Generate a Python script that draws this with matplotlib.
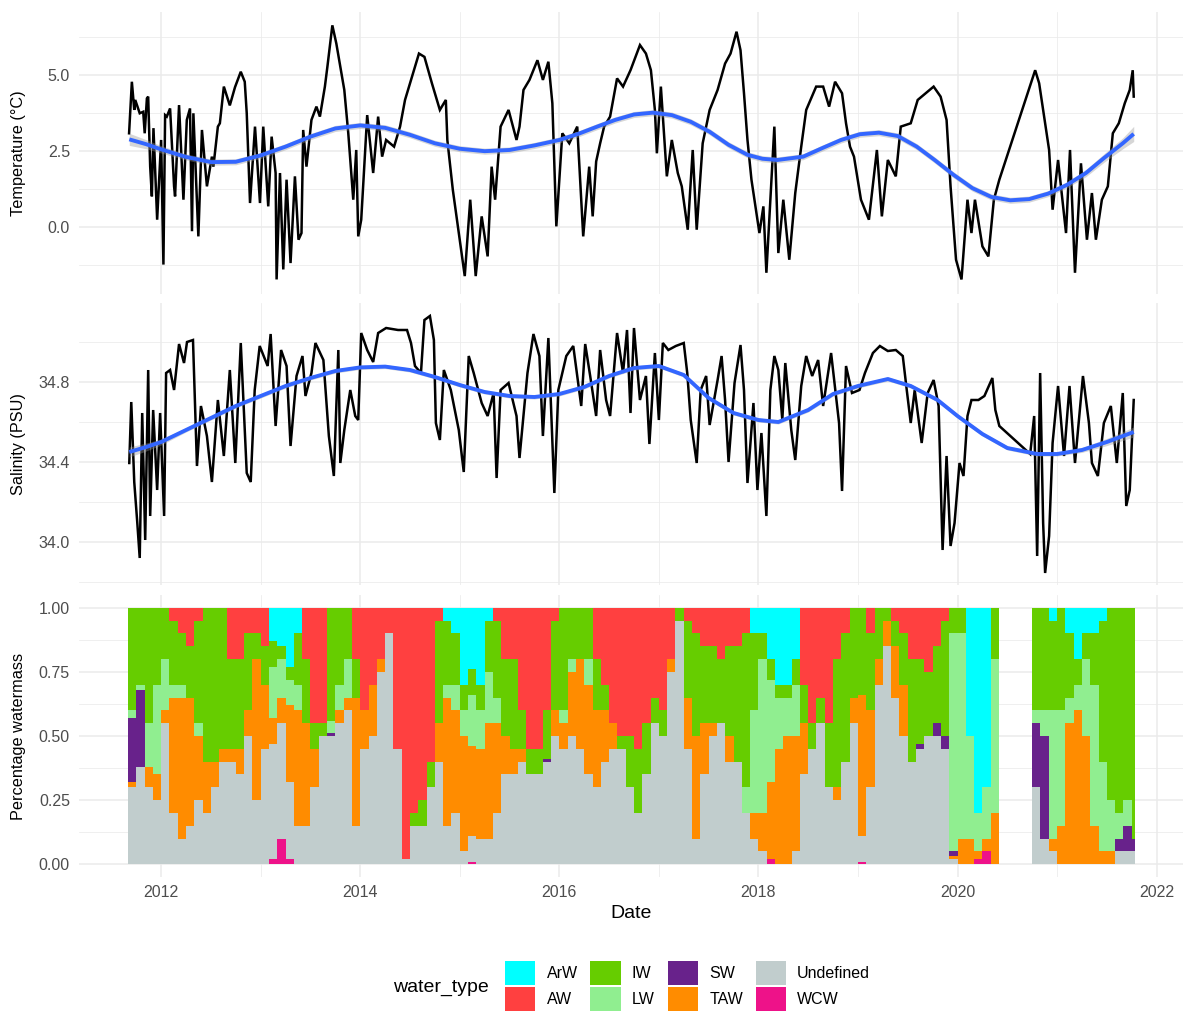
import numpy as np
import pandas as pd
import matplotlib
matplotlib.use('Agg')
import matplotlib.pyplot as plt
from matplotlib.patches import Patch
from matplotlib.ticker import MultipleLocator, FormatStrFormatter

plt.rcParams['font.family'] = ['Liberation Sans', 'DejaVu Sans']

# temperature record (decimal year, degC)
temp_points = [
    (2011.678, 3.08), (2011.706, 4.78), (2011.73, 3.85), (2011.74, 4.18), (2011.785, 3.74), (2011.82, 3.79),
    (2011.835, 3.08), (2011.857, 4.23), (2011.87, 4.29), (2011.89, 1.98), (2011.907, 1.00), (2011.923, 3.25),
    (2011.96, 0.23), (2012.0, 2.86), (2012.023, -1.25), (2012.04, 3.68), (2012.057, 3.63), (2012.09, 3.90),
    (2012.13, 1.33), (2012.14, 1.00), (2012.18, 4.01), (2012.224, 0.89), (2012.258, 3.52), (2012.29, 3.90),
    (2012.31, -0.15), (2012.324, 3.74), (2012.374, -0.32), (2012.41, 3.19), (2012.46, 1.33), (2012.51, 2.31),
    (2012.525, 1.98), (2012.57, 3.30), (2012.59, 3.41), (2012.63, 4.62), (2012.69, 4.00), (2012.742, 4.60),
    (2012.80, 5.11), (2012.84, 4.78), (2012.86, 3.74), (2012.893, 0.78), (2012.943, 3.30), (2012.993, 0.78),
    (2013.026, 3.30), (2013.076, 0.67), (2013.11, 2.97), (2013.15, 1.77), (2013.16, -1.74), (2013.194, 1.77),
    (2013.227, -1.41), (2013.26, 1.55), (2013.30, -1.20), (2013.344, 1.66), (2013.38, -0.43), (2013.41, -0.21),
    (2013.427, 3.19), (2013.46, 1.98), (2013.51, 3.52), (2013.56, 3.96), (2013.595, 3.63), (2013.645, 4.62),
    (2013.67, 5.27), (2013.72, 6.64), (2013.76, 6.04),
    (2013.80, 5.27), (2013.84, 4.51), (2013.88, 3.08), (2013.93, 0.89), (2013.96, 2.53), (2013.98, -0.32),
    (2014.01, 0.23), (2014.07, 3.68), (2014.13, 1.77), (2014.18, 3.63), (2014.22, 2.31), (2014.26, 2.86),
    (2014.34, 2.64), (2014.40, 3.30), (2014.45, 4.18), (2014.53, 5.05), (2014.59, 5.71), (2014.645, 5.60),
    (2014.72, 4.73), (2014.80, 3.85), (2014.86, 4.18), (2014.875, 2.86), (2014.93, 1.22), (2014.99, -0.21),
    (2015.05, -1.63), (2015.105, 0.89), (2015.16, -1.63), (2015.22, 0.34), (2015.28, -0.98), (2015.32, 1.98),
    (2015.355, 0.89), (2015.41, 3.30), (2015.49, 3.85), (2015.57, 2.86), (2015.60, 3.30), (2015.64, 4.51),
    (2015.70, 4.84), (2015.78, 5.49), (2015.835, 4.84), (2015.89, 5.44), (2015.93, 4.07), (2015.97, 0.01),
    (2016.03, 3.08), (2016.10, 2.75), (2016.18, 3.30), (2016.24, -0.32), (2016.30, 1.98), (2016.335, 0.34),
    (2016.37, 2.15), (2016.41, 2.75), (2016.45, 3.30), (2016.51, 3.63), (2016.58, 4.89), (2016.64, 4.62),
    (2016.715, 5.16), (2016.81, 5.99), (2016.87, 5.71), (2016.92, 5.16), (2016.96, 3.85), (2016.98, 2.42),
    (2017.02, 4.62), (2017.08, 1.66), (2017.13, 2.86), (2017.19, 1.77), (2017.23, 1.33), (2017.29, -0.10),
    (2017.34, 2.53), (2017.38, -0.10), (2017.44, 2.75), (2017.51, 3.85), (2017.59, 4.51), (2017.665, 5.38),
    (2017.72, 5.71), (2017.78, 6.43), (2017.82, 5.82), (2017.855, 4.40), (2017.89, 2.86), (2017.93, 1.55),
    (2018.01, -0.21), (2018.05, 0.67), (2018.08, -1.52), (2018.12, 0.89), (2018.16, 3.30), (2018.20, -0.87),
    (2018.25, 0.89), (2018.31, -1.09), (2018.37, 1.11), (2018.43, 2.64), (2018.48, 3.85), (2018.58, 4.62),
    (2018.65, 4.62), (2018.71, 3.96), (2018.77, 4.78), (2018.84, 4.40), (2018.88, 3.41), (2018.92, 2.64),
    (2018.96, 2.31), (2019.03, 0.89), (2019.11, 0.23), (2019.19, 2.53), (2019.24, 0.34), (2019.30, 2.20),
    (2019.38, 1.66), (2019.43, 3.30), (2019.53, 3.41), (2019.60, 4.18), (2019.68, 4.40), (2019.76, 4.62),
    (2019.83, 4.29), (2019.89, 3.52), (2019.93, 1.33), (2019.985, -1.09), (2020.04, -1.74), (2020.10, 0.89),
    (2020.14, -0.21), (2020.175, 0.89), (2020.25, -0.65), (2020.31, -0.98), (2020.365, 0.89), (2020.42, 1.55),
    (2020.78, 5.16), (2020.82, 4.73), (2020.86, 3.85), (2020.92, 2.53), (2020.955, 0.56), (2021.01, 2.20),
    (2021.09, -0.21), (2021.13, 2.53), (2021.18, -1.52), (2021.24, 2.09), (2021.30, -0.43), (2021.35, 1.11),
    (2021.39, -0.43), (2021.45, 0.89), (2021.51, 1.33), (2021.56, 3.08), (2021.62, 3.41), (2021.68, 4.07),
    (2021.73, 4.51), (2021.76, 5.16), (2021.77, 4.29),
]

# salinity record (decimal year, PSU)
sal_points = [
    (2011.68, 34.395), (2011.70, 34.70), (2011.73, 34.30), (2011.76, 34.10), (2011.785, 33.92), (2011.81, 34.645),
    (2011.84, 34.01), (2011.87, 34.86), (2011.89, 34.13), (2011.92, 34.66), (2011.96, 34.26), (2011.99, 34.645),
    (2012.03, 34.13), (2012.05, 34.845), (2012.09, 34.86), (2012.13, 34.76), (2012.18, 34.99), (2012.23, 34.895),
    (2012.26, 35.00), (2012.32, 35.01), (2012.36, 34.38), (2012.40, 34.68), (2012.46, 34.53), (2012.51, 34.30),
    (2012.57, 34.71), (2012.63, 34.43), (2012.69, 34.86), (2012.745, 34.395), (2012.80, 34.995), (2012.86, 34.345),
    (2012.90, 34.30), (2012.94, 34.76), (2012.99, 34.98), (2013.07, 34.88), (2013.10, 35.04), (2013.15, 34.58),
    (2013.205, 34.96), (2013.26, 34.88), (2013.30, 34.48), (2013.36, 34.83), (2013.42, 34.93), (2013.45, 34.73),
    (2013.51, 34.845), (2013.55, 34.995), (2013.63, 34.91), (2013.685, 34.53), (2013.735, 34.33), (2013.78, 34.96),
    (2013.80, 34.395), (2013.84, 34.56), (2013.90, 34.76), (2013.95, 34.63), (2013.98, 34.61), (2014.01, 35.045),
    (2014.07, 34.96), (2014.13, 34.90), (2014.18, 35.045), (2014.26, 35.07), (2014.38, 35.06), (2014.47, 35.06),
    (2014.51, 34.995), (2014.55, 34.88), (2014.61, 34.845), (2014.645, 35.11), (2014.70, 35.13), (2014.74, 35.01),
    (2014.76, 34.595), (2014.80, 34.51), (2014.84, 34.86), (2014.91, 34.76), (2014.99, 34.56), (2015.04, 34.35),
    (2015.09, 34.93), (2015.14, 34.845), (2015.22, 34.695), (2015.28, 34.63), (2015.34, 34.745), (2015.37, 34.32),
    (2015.41, 34.76), (2015.49, 34.795), (2015.57, 34.63), (2015.60, 34.42), (2015.68, 34.845), (2015.74, 35.04),
    (2015.80, 34.93), (2015.835, 34.53), (2015.89, 35.02), (2015.95, 34.245), (2015.99, 34.76), (2016.07, 34.93),
    (2016.14, 34.98), (2016.22, 34.68), (2016.26, 34.99), (2016.31, 34.83), (2016.37, 34.63), (2016.41, 34.96),
    (2016.47, 34.71), (2016.51, 34.63), (2016.58, 35.045), (2016.64, 34.845), (2016.68, 35.06), (2016.715, 34.645),
    (2016.75, 35.07), (2016.81, 34.71), (2016.87, 34.83), (2016.905, 34.49), (2016.96, 34.945), (2017.0, 34.61),
    (2017.04, 34.995), (2017.095, 34.96), (2017.17, 34.98), (2017.25, 34.995), (2017.285, 34.845), (2017.32, 34.61),
    (2017.38, 34.395), (2017.42, 34.76), (2017.475, 34.83), (2017.51, 34.585), (2017.59, 34.81), (2017.63, 34.93),
    (2017.665, 34.71), (2017.70, 34.40), (2017.76, 34.795), (2017.82, 34.985), (2017.855, 34.76), (2017.89, 34.295),
    (2017.95, 34.695), (2017.99, 34.26), (2018.03, 34.545), (2018.08, 34.13), (2018.12, 34.76), (2018.16, 34.93),
    (2018.20, 34.86), (2018.24, 34.61), (2018.27, 34.895), (2018.33, 34.56), (2018.37, 34.41), (2018.43, 34.78),
    (2018.48, 34.93), (2018.54, 34.83), (2018.60, 34.91), (2018.65, 34.68), (2018.73, 34.945), (2018.81, 34.595),
    (2018.84, 34.255), (2018.88, 34.88), (2018.94, 34.745), (2019.015, 34.76), (2019.07, 34.845), (2019.15, 34.945),
    (2019.22, 34.98), (2019.30, 34.955), (2019.38, 34.96), (2019.45, 34.93), (2019.49, 34.76), (2019.53, 34.595),
    (2019.57, 34.76), (2019.64, 34.495), (2019.70, 34.745), (2019.76, 34.81), (2019.81, 34.68), (2019.85, 33.96),
    (2019.89, 34.43), (2019.93, 33.98), (2019.97, 34.095), (2020.02, 34.395), (2020.06, 34.33), (2020.10, 34.63),
    (2020.14, 34.71), (2020.21, 34.71), (2020.27, 34.73), (2020.35, 34.82), (2020.38, 34.66), (2020.42, 34.58),
    (2020.73, 34.44), (2020.77, 34.63), (2020.80, 33.93), (2020.83, 34.845), (2020.86, 34.095), (2020.88, 33.845),
    (2020.92, 34.03), (2020.955, 34.495), (2021.01, 34.78), (2021.07, 34.43), (2021.125, 34.78), (2021.18, 34.395),
    (2021.26, 34.83), (2021.32, 34.595), (2021.35, 34.395), (2021.41, 34.33), (2021.47, 34.595), (2021.54, 34.68),
    (2021.60, 34.395), (2021.66, 34.745), (2021.695, 34.18), (2021.73, 34.26), (2021.77, 34.71),
]

# loess trend lines with their standard-error half widths
temp_smooth_year = [2011.68, 2011.85, 2012.0, 2012.25, 2012.5, 2012.75, 2013.0, 2013.25, 2013.5, 2013.75,
                    2014.0, 2014.25, 2014.5, 2014.75, 2015.0, 2015.25, 2015.5, 2015.75, 2016.0, 2016.19,
                    2016.38, 2016.56, 2016.75, 2016.94, 2017.13, 2017.32, 2017.51, 2017.70, 2017.89, 2018.04,
                    2018.19, 2018.45, 2018.64, 2018.83, 2019.02, 2019.21, 2019.40, 2019.59, 2019.77, 2019.96,
                    2020.15, 2020.34, 2020.53, 2020.72, 2020.91, 2021.10, 2021.29, 2021.47, 2021.66, 2021.77]
temp_smooth = [2.88, 2.72, 2.55, 2.30, 2.13, 2.14, 2.35, 2.64, 2.97, 3.24,
               3.34, 3.26, 3.03, 2.75, 2.57, 2.49, 2.53, 2.68, 2.86, 3.06,
               3.30, 3.52, 3.70, 3.76, 3.68, 3.46, 3.13, 2.70, 2.37, 2.24,
               2.20, 2.31, 2.59, 2.86, 3.05, 3.10, 2.99, 2.64, 2.20, 1.71,
               1.27, 0.98, 0.87, 0.91, 1.09, 1.38, 1.77, 2.26, 2.75, 3.06]
temp_se = [0.20, 0.15, 0.12] + [0.10] * 43 + [0.12, 0.14, 0.18, 0.25]

sal_smooth_year = [2011.68, 2011.85, 2012.0, 2012.25, 2012.5, 2012.75, 2013.0, 2013.25, 2013.5, 2013.75,
                   2014.0, 2014.25, 2014.5, 2014.75, 2015.0, 2015.25, 2015.5, 2015.75, 2016.0, 2016.25,
                   2016.5, 2016.75, 2017.0, 2017.25, 2017.5, 2017.75, 2018.0, 2018.2, 2018.5, 2018.75,
                   2019.0, 2019.3, 2019.53, 2019.8, 2020.0, 2020.25, 2020.5, 2020.8, 2021.0, 2021.25,
                   2021.5, 2021.77]
sal_smooth = [34.45, 34.475, 34.50, 34.56, 34.62, 34.68, 34.73, 34.78, 34.82, 34.855,
              34.873, 34.877, 34.86, 34.825, 34.785, 34.75, 34.73, 34.725, 34.74, 34.775,
              34.83, 34.87, 34.88, 34.835, 34.72, 34.645, 34.61, 34.60, 34.66, 34.74,
              34.78, 34.815, 34.78, 34.71, 34.63, 34.54, 34.47, 34.44, 34.44, 34.46,
              34.50, 34.55]
sal_se = [0.025, 0.02, 0.015] + [0.01] * 36 + [0.012, 0.018, 0.025]

# monthly water mass shares, Sep 2011 .. Oct 2021 (one row per Sep-Aug year)
months = pd.period_range('2011-09', '2021-10', freq='M')
record_end = 2021.78

water_types = ['ArW', 'AW', 'IW', 'LW', 'SW', 'TAW', 'Undefined', 'WCW']
water_colors = ['#00FFFF', '#FF4040', '#66CD00', '#90EE90', '#68228B', '#FF8C00', '#C1CDCD', '#EE1289']

wcw = [0, 0, 0, 0, 0, 0, 0, 0, 0, 0, 0, 0,
       0, 0, 0, 0, 0, .02, .10, .02, 0, 0, 0, 0,
       0, 0, 0, 0, 0, 0, 0, 0, 0, 0, 0, 0,
       0, 0, 0, 0, 0, .01, 0, 0, 0, 0, 0, 0,
       0, 0, 0, 0, 0, 0, 0, 0, 0, 0, 0, 0,
       0, 0, 0, 0, 0, 0, 0, 0, 0, 0, 0, 0,
       0, 0, 0, 0, 0, .02, 0, 0, 0, 0, 0, 0,
       0, 0, 0, 0, .01, 0, 0, 0, 0, 0, 0, 0,
       0, 0, 0, 0, 0, 0, .02, .05, 0, 0, 0, 0,
       0, 0, 0, 0, 0, 0, 0, 0, 0, 0, 0, 0,
       0, 0]
undefined = [.30, .38, .30, .25, .55, .20, .10, .15, .25, .20, .30, .40,
             .40, .35, .50, .25, .45, .45, .45, .30, .15, .15, .30, .50,
             .50, .55, .60, .15, .45, .50, .75, .90, .45, .02, .15, .15,
             .30, .40, .15, .20, .05, .10, .10, .10, .20, .35, .35, .40,
             .35, .35, .40, .50, .45, .50, .45, .35, .30, .40, .45, .45,
             .30, .20, .35, .55, .50, .75, .95, .45, .10, .35, .50, .55,
             .40, .40, .20, .10, .05, 0, 0, 0, .05, .35, .45, .55,
             .30, .25, .40, .55, .10, .30, .70, .85, .65, .50, .40, .45,
             .50, .50, .45, .02, 0, 0, 0, 0, 0, 0, 0, 0,
             0, .30, .10, .05, 0, 0, 0, 0, 0, 0, 0, .05,
             .05, .05]
taw = [.02, 0, .08, .10, .05, .45, .55, .50, .25, .20, .10, .05,
       .05, .10, .10, .55, .25, .10, .10, .30, .45, .40, .15, 0,
       0, .05, .05, .50, .15, .20, .05, 0, 0, 0, 0, 0,
       0, .15, .50, .40, .45, .35, .35, .45, .35, .15, .10, .05,
       0, 0, 0, .10, .10, .25, .35, .35, .30, .20, .10, 0,
       0, 0, 0, 0, 0, .05, 0, .20, .40, .20, .05, 0,
       .10, 0, 0, .10, .15, .30, .45, .50, .45, .20, 0, 0,
       0, .05, 0, .10, .55, .30, .10, .10, .20, .20, 0, 0,
       0, 0, 0, .01, .10, .10, .03, .05, .20, 0, 0, 0,
       0, 0, 0, .05, .15, .55, .60, .50, .15, .05, .05, 0,
       0, 0]
sw = [.25, .30, 0, 0, 0, 0, 0, 0, 0, 0, 0, 0,
      0, 0, 0, 0, 0, 0, 0, 0, 0, 0, 0, 0,
      .01, 0, 0, 0, 0, 0, 0, 0, 0, 0, 0, 0,
      0, 0, 0, 0, 0, 0, 0, 0, 0, 0, 0, 0,
      0, 0, .01, 0, 0, 0, 0, 0, 0, 0, 0, 0,
      0, 0, 0, 0, 0, 0, 0, 0, 0, 0, 0, 0,
      0, 0, 0, 0, 0, 0, 0, 0, 0, 0, 0, 0,
      0, 0, 0, 0, 0, 0, 0, 0, 0, 0, 0, .02,
      0, .05, .05, .02, 0, 0, 0, 0, 0, 0, 0, 0,
      0, .25, .40, 0, 0, 0, 0, 0, 0, 0, 0, .05,
      .10, .05]
lw = [.03, .02, .17, .35, .20, .05, .05, 0, .05, 0, 0, 0,
      0, 0, 0, 0, 0, .20, .15, .10, .10, 0, 0, 0,
      .05, .10, .15, 0, 0, 0, 0, 0, 0, 0, 0, 0,
      0, 0, .05, .10, .10, .20, .15, .20, .10, 0, 0, 0,
      0, 0, 0, 0, .05, .05, 0, .10, 0, 0, 0, 0,
      0, 0, 0, 0, 0, 0, 0, 0, 0, 0, 0, 0,
      0, 0, .10, .40, .60, .40, .20, .15, .20, 0, 0, 0,
      0, 0, 0, 0, 0, 0, 0, 0, 0, 0, 0, 0,
      0, 0, 0, .85, .80, .40, .15, .20, .60, 0, 0, 0,
      0, .05, .10, .50, .45, .10, .10, .30, .55, .35, .20, .10,
      .10, 0]
iw = [.40, .30, .45, .30, .20, .25, .20, .20, .40, .60, .60, .55,
      .35, .35, .30, .10, .15, .10, .05, .05, .20, .25, .10, .05,
      .44, .30, .20, .15, 0, 0, 0, 0, 0, 0, .05, .10,
      .10, .40, .25, .20, .10, .10, .10, .20, .30, .30, .35, .15,
      .10, .10, .19, .35, .40, .20, .20, .20, .20, .10, 0, .05,
      .20, .25, .20, .10, .10, 0, .05, .30, .40, .30, .30, .25,
      .35, .45, .60, .30, .10, .08, .05, .05, .10, .15, .10, .10,
      .25, .50, .50, .35, .34, .30, .20, .05, .10, .20, .40, .33,
      .25, .30, .45, .10, .10, 0, 0, 0, .20, 0, 0, 0,
      0, .40, .40, .35, .40, .25, .10, .10, .20, .55, .75, .80,
      .75, .90]
aw = [0, 0, 0, 0, 0, .05, .10, .15, .05, 0, 0, 0,
      .20, .20, .10, .10, .15, 0, 0, 0, 0, .20, .45, .45,
      0, 0, 0, .20, .40, .30, .20, .10, .55, .98, .80, .75,
      .60, .05, 0, 0, 0, 0, 0, 0, .05, .20, .20, .40,
      .55, .55, .40, .05, 0, 0, 0, 0, .20, .30, .45, .50,
      .50, .55, .45, .35, .40, .20, 0, .05, .10, .15, .15, .20,
      .15, .15, .10, 0, 0, 0, 0, 0, 0, .30, .45, .35,
      .45, .20, .10, 0, 0, .10, 0, 0, .05, .10, .20, .20,
      .25, .15, .05, 0, 0, 0, 0, 0, 0, 0, 0, 0,
      0, 0, 0, 0, 0, 0, 0, 0, 0, 0, 0, 0,
      0, 0]
arw = [0, 0, 0, 0, 0, 0, 0, 0, 0, 0, 0, 0,
       0, 0, 0, 0, 0, .13, .15, .23, .10, 0, 0, 0,
       0, 0, 0, 0, 0, 0, 0, 0, 0, 0, 0, 0,
       0, 0, .05, .10, .30, .24, .30, .05, 0, 0, 0, 0,
       0, 0, 0, 0, 0, 0, 0, 0, 0, 0, 0, 0,
       0, 0, 0, 0, 0, 0, 0, 0, 0, 0, 0, 0,
       0, 0, 0, .10, .10, .20, .30, .30, .20, 0, 0, 0,
       0, 0, 0, 0, 0, 0, 0, 0, 0, 0, 0, 0,
       0, 0, 0, 0, 0, .50, .80, .70, 0, 0, 0, 0,
       0, 0, 0, .05, 0, .10, .20, .10, .10, .05, 0, 0,
       0, 0]

# ---- data prep ----
temp_year, temp_val = map(np.array, zip(*temp_points))
sal_year, sal_val = map(np.array, zip(*sal_points))

shares = {'WCW': wcw, 'Undefined': undefined, 'TAW': taw, 'SW': sw,
          'LW': lw, 'IW': iw, 'AW': aw, 'ArW': arw}
share_df = pd.DataFrame(shares, index=months)
tot = share_df.sum(axis=1)
share_df = share_df.div(tot.where(tot > 0, 1), axis=0)

bar_left = np.array(months.year + (months.month - 1) / 12.0, dtype=float)
bar_width = np.full(len(months), 1 / 12.0)
bar_width[-1] = record_end - bar_left[-1]

# ---- figure ----
W, H = 1184, 1015
fig = plt.figure(figsize=(W / 100, H / 100), dpi=100)


def px_axes(x0, y0, x1, y1):
    return fig.add_axes([x0 / W, 1 - y1 / H, (x1 - x0) / W, (y1 - y0) / H])


ax1 = px_axes(79, 12, 1183, 294)
ax2 = px_axes(79, 303, 1183, 585)
ax3 = px_axes(79, 595, 1183, 877)

grid_col = '#EBEBEB'
tick_col = '#4D4D4D'

for ax in (ax1, ax2, ax3):
    for s in ax.spines.values():
        s.set_visible(False)
    ax.set_xlim(2011.175, 2022.265)
    ax.xaxis.set_major_locator(MultipleLocator(2))
    ax.xaxis.set_minor_locator(MultipleLocator(1))
    ax.grid(which='major', color=grid_col, lw=1.1)
    ax.grid(which='minor', color=grid_col, lw=0.55)
    ax.set_axisbelow(True)
    ax.tick_params(which='both', length=0, labelsize=11.5, labelcolor=tick_col)
    ax.tick_params(axis='y', pad=6.5)
    ax.tick_params(axis='x', pad=5.5)

# temperature
ax1.plot(temp_year, temp_val, color='black', lw=1.8, zorder=2, solid_joinstyle='miter')
ax1.fill_between(temp_smooth_year, np.array(temp_smooth) - temp_se, np.array(temp_smooth) + temp_se,
                 color='#999999', alpha=0.4, lw=0, zorder=3)
ax1.plot(temp_smooth_year, temp_smooth, color='#3366FF', lw=2.8, zorder=4, solid_capstyle='butt')
ax1.set_ylim(-2.22, 7.08)
ax1.yaxis.set_major_locator(MultipleLocator(2.5))
ax1.yaxis.set_minor_locator(MultipleLocator(1.25))
ax1.yaxis.set_major_formatter(FormatStrFormatter('%.1f'))
ax1.set_xticklabels([])
ax1.set_ylabel('Temperature (°C)', fontsize=11.7)

# salinity
ax2.plot(sal_year, sal_val, color='black', lw=1.8, zorder=2, solid_joinstyle='miter')
ax2.fill_between(sal_smooth_year, np.array(sal_smooth) - sal_se, np.array(sal_smooth) + sal_se,
                 color='#999999', alpha=0.4, lw=0, zorder=3)
ax2.plot(sal_smooth_year, sal_smooth, color='#3366FF', lw=2.8, zorder=4, solid_capstyle='butt')
ax2.set_ylim(33.785, 35.195)
ax2.yaxis.set_major_locator(MultipleLocator(0.4))
ax2.yaxis.set_minor_locator(MultipleLocator(0.2))
ax2.yaxis.set_major_formatter(FormatStrFormatter('%.1f'))
ax2.set_xticklabels([])
ax2.set_ylabel('Salinity (PSU)', fontsize=11.7)

# water mass composition, stacked with the first level on top
stack_order = ['WCW', 'Undefined', 'TAW', 'SW', 'LW', 'IW', 'AW', 'ArW']
color_of = dict(zip(water_types, water_colors))
bottom = np.zeros(len(months))
for name in stack_order:
    vals = share_df[name].values
    ax3.bar(bar_left, vals, width=bar_width, bottom=bottom, align='edge',
            color=color_of[name], linewidth=0, zorder=2)
    bottom += vals
ax3.set_ylim(-0.05, 1.05)
ax3.yaxis.set_major_locator(MultipleLocator(0.25))
ax3.yaxis.set_minor_locator(MultipleLocator(0.125))
ax3.yaxis.set_major_formatter(FormatStrFormatter('%.2f'))
ax3.xaxis.set_major_formatter(FormatStrFormatter('%d'))
ax3.set_ylabel('Percentage watermass', fontsize=11.7)

for ax in (ax1, ax2, ax3):
    ax.yaxis.set_label_coords((26 - 79) / 1104, 0.5)

fig.text(631 / W, 1 - 914 / H, 'Date', ha='center', va='center', fontsize=14)

# legend: title on the left, 2 rows x 4 columns of keys
handles = [Patch(facecolor=c, edgecolor='none') for c in water_colors]
fig.text(393 / W, 1 - 988 / H, 'water_type', ha='left', va='center', fontsize=14)
fig.legend(handles, water_types, loc='center left', bbox_to_anchor=(505 / W, 1 - 986 / H),
           ncol=4, frameon=False, fontsize=11.5, handlelength=1.9, handleheight=1.9,
           handletextpad=0.7, columnspacing=0.8, labelspacing=0.12, borderpad=0, borderaxespad=0)

fig.savefig('out.png', dpi=100)
